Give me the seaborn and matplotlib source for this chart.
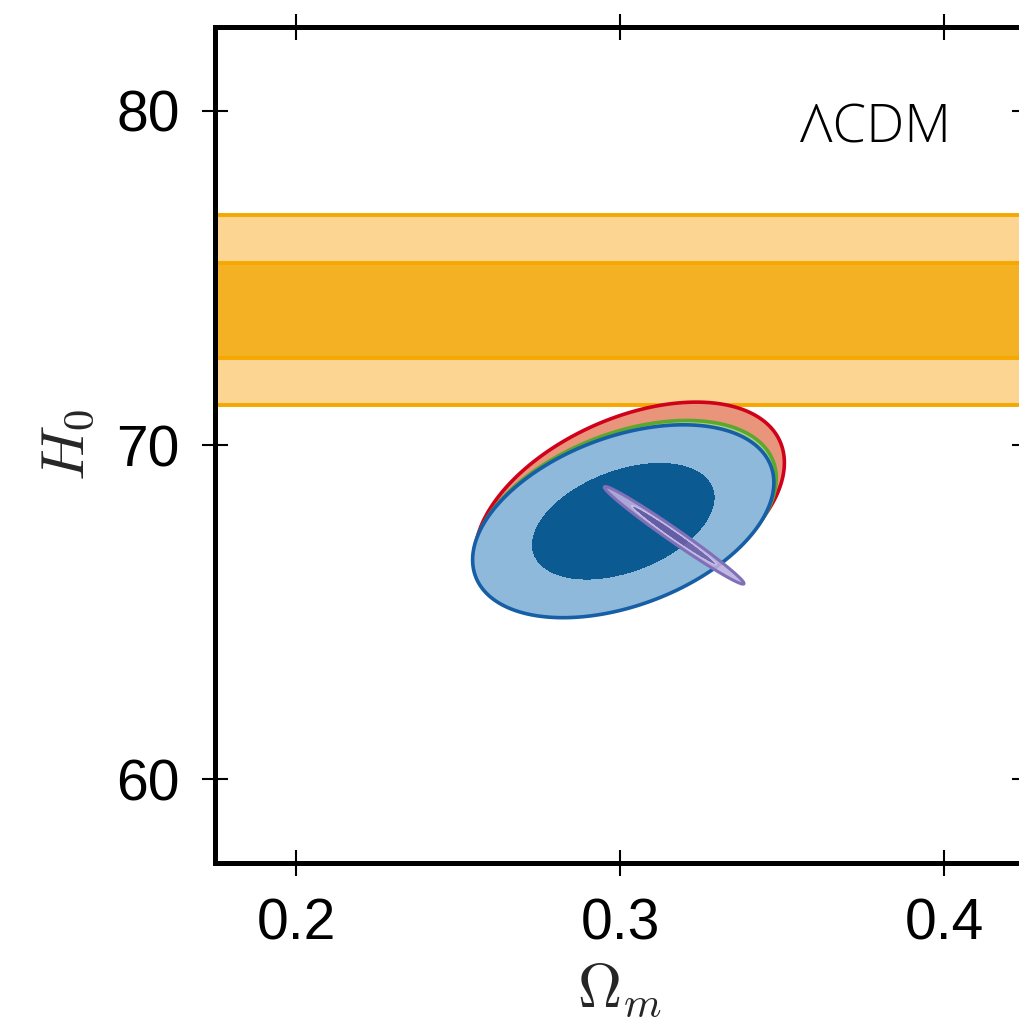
import numpy as np
import matplotlib
matplotlib.use("Agg")
import matplotlib.pyplot as plt
import seaborn as sns

# Local distance-ladder H0 measurement (mean, 1-sigma error)
h0_local = 74.03
h0_local_err = 1.42

# Gaussian approximations of the (Omega_m, H0) posteriors for each probe
probes = ["red", "green", "blue", "purple"]
om_mean = [0.3030, 0.3015, 0.3010, 0.3167]
h0_mean = [68.10, 67.80, 67.72, 67.30]
om_sigma = [0.0192, 0.0188, 0.0187, 0.0087]
h0_sigma = [1.28, 1.18, 1.16, 0.589]
om_h0_corr = [0.43, 0.41, 0.40, -0.987]

# 68% and 95% levels of a 2D Gaussian in delta chi^2
chi2_levels = [0.0, 2.30, 6.18]

x_ticks = [0.2, 0.3, 0.4]
x_tick_labels = ["0.2", "0.3", "0.4"]
y_ticks = [60, 70, 80]
y_tick_labels = ["60", "70", "80"]

sns.set_theme(style="ticks")
plt.rcParams["font.family"] = ["Liberation Sans", "DejaVu Sans"]
plt.rcParams["mathtext.fontset"] = "cm"

fill_inner = {"red": "#e4967a", "green": "#9cc97f", "blue": "#0b5a92", "purple": "#6e5fa8"}
fill_outer = {"red": "#e8957b", "green": "#a8d28c", "blue": "#8fb9da", "purple": "#bcafdf"}
edge_col = {"red": "#d0021b", "green": "#5aa92c", "blue": "#165fa6", "purple": "#7f70b8"}
alphas = {"red": 1.0, "green": 1.0, "blue": 1.0, "purple": 0.9}

fig = plt.figure(figsize=(10.19, 10.21), dpi=100)
ax = fig.add_axes([215 / 1019, 158 / 1021, 810 / 1019, 836 / 1021])

# Local H0 band: 2-sigma (light) and 1-sigma (dark)
band_light = "#fcd592"
band_dark = "#f4b124"
band_edge = "#f5a800"
ax.axhspan(h0_local - 2 * h0_local_err, h0_local + 2 * h0_local_err,
           color=band_light, lw=0, zorder=1)
ax.axhspan(h0_local - h0_local_err, h0_local + h0_local_err,
           color=band_dark, lw=0, zorder=1.1)
for k in (-2, -1, 1, 2):
    ax.axhline(h0_local + k * h0_local_err, color=band_edge, lw=2.8, zorder=1.2)

# Posterior contours
om_grid = np.linspace(0.175, 0.425, 600)
h0_grid = np.linspace(57.5, 82.5, 600)
OM, H0 = np.meshgrid(om_grid, h0_grid)

for i, name in enumerate(probes):
    dx = (OM - om_mean[i]) / om_sigma[i]
    dy = (H0 - h0_mean[i]) / h0_sigma[i]
    r = om_h0_corr[i]
    chi2 = (dx ** 2 - 2 * r * dx * dy + dy ** 2) / (1 - r ** 2)
    z = 2 + i
    ax.contourf(OM, H0, chi2, levels=chi2_levels,
                colors=[fill_inner[name], fill_outer[name]],
                alpha=alphas[name], zorder=z)
    lw_out = 2.6 if name != "purple" else 2.2
    ax.contour(OM, H0, chi2, levels=[chi2_levels[2]], colors=[edge_col[name]],
               linewidths=lw_out, zorder=z + 0.1)
    if name == "purple":
        ax.contour(OM, H0, chi2, levels=[chi2_levels[1]], colors=["#c9bfe6"],
                   linewidths=1.0, alpha=0.9, zorder=z + 0.1)

ax.text(0.379, 79.46, "ΛCDM", ha="center", va="center", fontsize=39,
        family=["Open Sans", "DejaVu Sans"], fontweight="light", color="black",
        zorder=10)

ax.set_xlim(0.175, 0.425)
ax.set_ylim(57.5, 82.5)
ax.set_xticks(x_ticks)
ax.set_xticklabels(x_tick_labels)
ax.set_yticks(y_ticks)
ax.set_yticklabels(y_tick_labels)
ax.minorticks_off()

for side in ["left", "right", "top", "bottom"]:
    ax.spines[side].set_visible(True)
    ax.spines[side].set_linewidth(3.6)
    ax.spines[side].set_color("black")
    ax.spines[side].set_zorder(20)

ax.tick_params(axis="both", which="major", direction="inout", length=19,
               width=1.5, color="black", labelsize=41, top=True, right=True,
               labelcolor="black")
ax.tick_params(axis="x", pad=15)
ax.tick_params(axis="y", pad=16)

ax.set_xlabel(r"$\Omega_m$", fontsize=44, labelpad=8)
ax.set_ylabel(r"$H_0$", fontsize=44, labelpad=14)

fig.savefig("out.png", dpi=100, facecolor="white")
